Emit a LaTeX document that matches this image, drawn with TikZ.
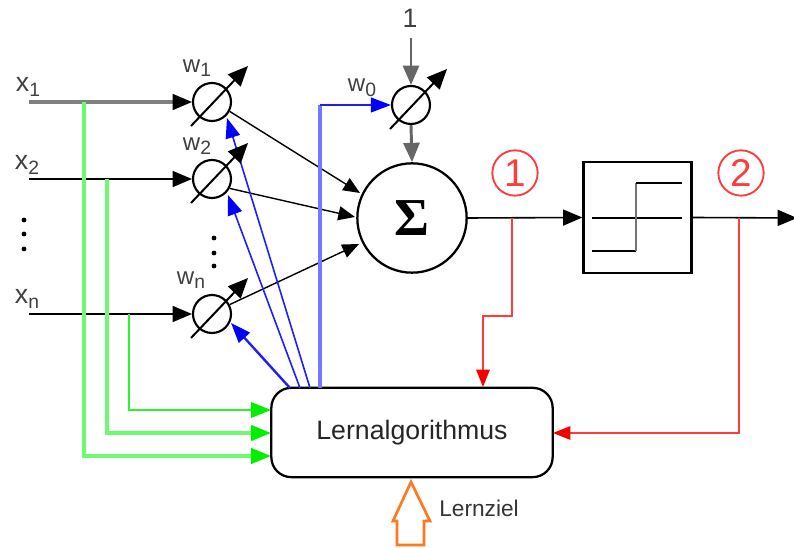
\documentclass[tikz,border=0pt]{standalone}
\usepackage{fontspec}
\setmainfont{Liberation Sans}
\newfontfamily\sigmafont{Liberation Serif}
\usetikzlibrary{arrows.meta,calc}
\definecolor{ggreen}{RGB}{110,250,110}
\definecolor{gtip}{RGB}{0,240,0}
\definecolor{bblue}{RGB}{30,30,250}
\definecolor{lblue}{RGB}{120,120,255}
\definecolor{rred}{RGB}{255,60,60}
\definecolor{tipred}{RGB}{245,0,0}
\definecolor{oorange}{RGB}{255,120,30}
\newcommand\lowsub[1]{\raisebox{-3.5pt}{\fontsize{14.5}{14.5}\selectfont #1}}
\tikzset{
  x=0.75pt,y=-0.75pt,
  blk/.style={draw=black,line width=1.2pt},
  thn/.style={draw=black,line width=1.05pt},
  tipb/.style={-{Triangle[length=14.5pt,width=12pt]}},
  tips/.style={-{Triangle[length=12.5pt,width=10.5pt]}},
  weight/.style={circle,draw=black,line width=1.6pt,minimum size=28.5pt,inner sep=0pt,fill=white},
  gr/.style={draw=ggreen,line width=2.5pt,-{Triangle[length=15pt,width=11.5pt,color=gtip]}},
  bl/.style={draw=bblue,line width=1.2pt,-{Triangle[length=15pt,width=11pt,color=blue]}},
  rd/.style={draw=rred,line width=1.4pt,-{Triangle[length=13pt,width=10pt,color=tipred]}},
  lab/.style={inner sep=0pt,text=black!75,font=\fontsize{18}{18}\selectfont},
  numc/.style={circle,draw=rred,line width=1.4pt,minimum size=34pt,inner sep=0pt,text=rred,font=\fontsize{29}{29}\selectfont},
  dotn/.style={circle,fill=black,inner sep=0pt,minimum size=3.6pt}
}
\begin{document}
\begin{tikzpicture}
\useasboundingbox (0,0) rectangle (794,548);
% nodes
\node[weight] (w1) at (212,102) {};
\node[weight] (w2) at (212,179) {};
\node[weight] (wn) at (212,314) {};
\node[weight] (w0) at (411,105) {};
\node[circle,draw=black,line width=1.7pt,minimum size=82pt,inner sep=0pt] (sum) at (412,218) {\sigmafont\bfseries\fontsize{40}{40}\selectfont Σ};
\node[draw=black,line width=1.7pt,minimum width=81pt,minimum height=83pt,inner sep=0pt] (step) at (637.5,217.5) {};
\node[draw=black,line width=1.7pt,rounded corners=15pt,minimum width=211pt,minimum height=67pt,inner sep=0pt,font=\fontsize{20}{20}\selectfont,text=black!85] (learn) at (412,432.5) {Lernalgorithmus};
% input labels
\node[lab,font=\fontsize{20}{20}\selectfont] (lx1) at (28,87) {x\lowsub{1}};
\node[lab,font=\fontsize{20}{20}\selectfont] (lx2) at (27,165) {x\lowsub{2}};
\node[lab,font=\fontsize{20}{20}\selectfont] (lxn) at (27,299) {x\lowsub{n}};
\node[lab] (lw1) at (197,68) {w\lowsub{1}};
\node[lab] (lw2) at (197,146) {w\lowsub{2}};
\node[lab] (lwn) at (191,280) {w\lowsub{n}};
\node[lab] (lw0) at (362,88) {w\lowsub{0}};
\node[lab,font=\fontsize{20}{20}\selectfont] (one) at (410,18) {1};
\node[numc] (n1) at (515,173) {1};
\node[numc] (n2) at (741,173) {2};
\node[inner sep=0pt,font=\fontsize{17}{17}\selectfont,text=black!80] (lz) at (479,508) {Lernziel};
% free ends
\coordinate (x1s) at (29,102);
\coordinate (x2s) at (29,179);
\coordinate (xns) at (29,314);
\coordinate (oneS) at (411,38);
\coordinate (outE) at (797,218);
% black inputs
\draw[draw=black!50,line width=2.5pt] (x1s) -- (175,102);
\draw[blk,tipb] (175,102) -- (w1.west);
\draw[blk,tipb] (x2s) -- (w2.west);
\draw[blk,tipb] (xns) -- (wn.west);
\draw[draw=black!60,line width=2.2pt,tipb] (oneS) -- (w0.north);
\draw[draw=black!60,line width=2.2pt,tipb] (w0.south) -- (sum.north);
% to sum
\draw[thn,tips] (w1.-28) -- (360,193);
\draw[thn,tips] (w2.-28) -- (355,217);
\draw[thn,tips] (wn.28) -- (359,244);
% out
\draw[blk,tipb] (sum.east) -- (step.west);
\draw[blk,tipb] (step.east) -- (outE);
% step curve
\draw[black,line width=1.1pt] (592,218) -- (682,218);
\draw[black,line width=1.2pt] (592,251) -- (636,251);
\draw[black!55,line width=2pt] (636,251) -- (636,183);
\draw[black,line width=1.2pt] (636,183) -- (682,183);
% green
\draw[gr] (84,102) |- (271,456);
\draw[gr] (107,179) |- (271,433);
\draw[gr,draw=gtip!60!ggreen,line width=1.6pt] (129,314) |- (271,410);
% blue
\draw[bl,line width=1.8pt] (290,388) -- (231,323);
\draw[bl] (300,388) -- (228,195);
\draw[bl] (310,388) -- (227,118);
\draw[draw=lblue,line width=2.5pt] (320,388) -- (320,105);
\draw[bl,line width=1.4pt] (320,105) -- (w0.west);
% red
\draw[rd] (512,218) -- (512,316) -- (483,316) -- (483,387);
\draw[rd] (739,218) -- (739,433) -- (553,433);
% adjustable slashes on top
\foreach \c in {w1,w2,wn,w0}{
  \draw[black,line width=1.5pt,-{Triangle[length=15pt,width=13pt]}] ($(\c)+(-21,24)$) -- ($(\c)+(36,-36)$);
}
% dots
\foreach \y in {220,234,249}{\node[dotn] at (24,\y) {};}
\foreach \y in {238,253,266}{\node[dotn] at (214,\y) {};}
% Lernziel arrow
\draw[draw=oorange,line width=2pt,fill=white,line join=miter] (411,482) -- (430,521) -- (424,521) -- (424,545) -- (397,545) -- (397,521) -- (393,521) -- cycle;
\end{tikzpicture}
\end{document}
